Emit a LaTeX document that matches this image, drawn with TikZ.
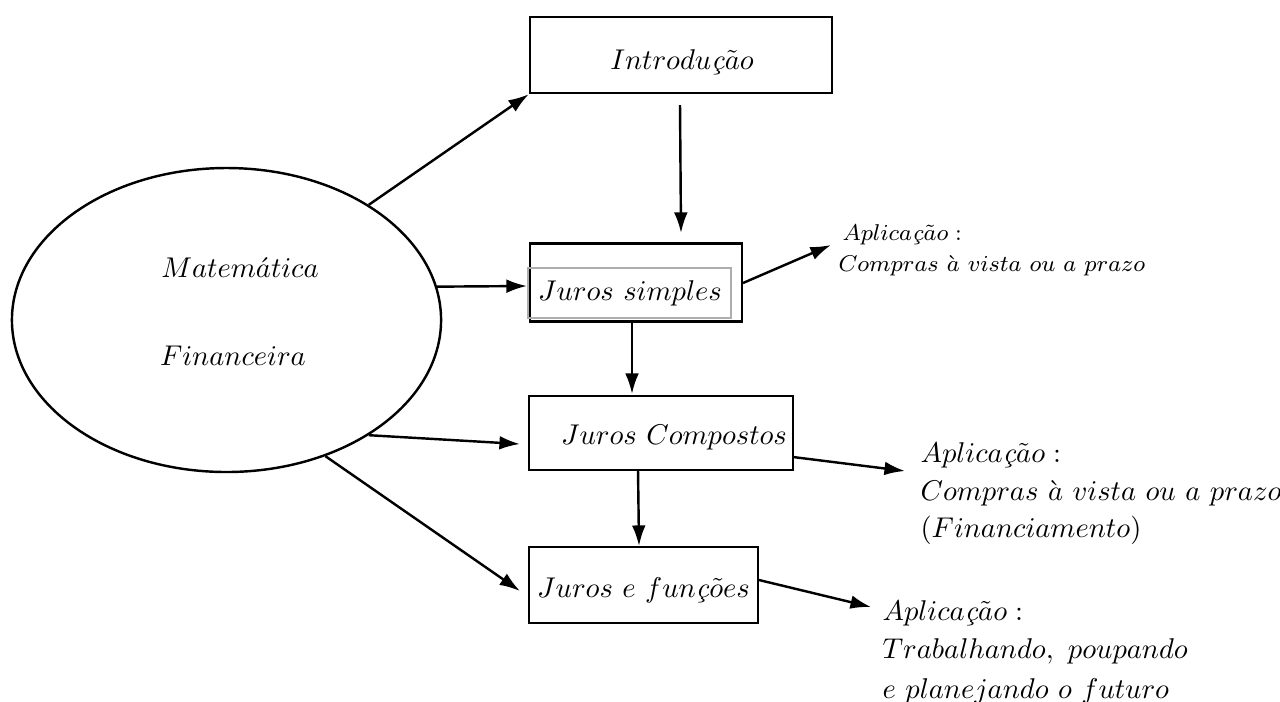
\documentclass[tikz,border=0pt]{standalone}
\usetikzlibrary{arrows.meta,shapes.geometric}
\begin{document}
\begin{tikzpicture}[x=0.35pt,y=-0.35pt,
  box/.style={draw,line width=0.85pt,inner sep=0pt},
  graybox/.style={draw=black!32,line width=0.6pt,inner sep=0pt},
  txt/.style={inner sep=0pt,font=\normalsize},
  lab/.style={inner sep=0pt,anchor=base west},
  arr/.style={line width=0.85pt,-{Latex[length=7.2pt,width=4.8pt]}}]
\useasboundingbox (0,0) rectangle (1280,701);
% ellipse
\node[draw,ellipse,line width=0.85pt,inner sep=0pt,minimum width=150.2pt,minimum height=106.4pt] (ell) at (226.5,320) {};
\node[txt] (mat) at (240,268) {$Matem\acute{a}tica$};
\node[txt] (fin) at (233,356) {$Financeira$};
% boxes
\node[box,minimum width=105.7pt,minimum height=26.6pt] (intro) at (681,55) {};
\node[txt] (introt) at (682,62) {$Introdu\mbox{\textit{ç}}\tilde{a}o$};
\node[box,minimum width=74.2pt,minimum height=27.3pt] (js) at (636,282.5) {};
\node[graybox,minimum width=71.05pt,minimum height=17.5pt] (jsin) at (629.5,293) {};
\node[txt] (jst) at (630,293) {$Juros\ simples$};
\node[box,minimum width=92.4pt,minimum height=25.9pt] (jc) at (661,433) {};
\node[txt] (jct) at (674,437) {$Juros\ Compostos$};
\node[box,minimum width=80.15pt,minimum height=26.6pt] (jf) at (643.5,585) {};
\node[txt] (jft) at (643.5,590) {$Juros\ e\ fun\mbox{\textit{ç}}\tilde{o}es$};
% application labels
\node[lab,font=\footnotesize] (a1) at (842,240) {$Aplica\mbox{\textit{ç}}\tilde{a}o:$};
\node[lab,font=\footnotesize] (a1b) at (838,271) {$Compras\ \grave{a}\ vista\ ou\ a\ prazo$};
\node[lab] (a2) at (920,462) {$Aplica\mbox{\textit{ç}}\tilde{a}o:$};
\node[lab] (a2b) at (920,500) {$Compras\ \grave{a}\ vista\ ou\ a\ prazo$};
\node[lab] (a2c) at (920,537) {$(Financiamento)$};
\node[lab] (a3) at (882,620) {$Aplica\mbox{\textit{ç}}\tilde{a}o:$};
\node[lab] (a3b) at (882,658) {$Trabalhando,\ poupando$};
\node[lab] (a3c) at (882,698) {$e\ planejando\ o\ futuro$};
% connector ends
\coordinate (c2s) at (680,105);
\coordinate (c2e) at (681,233);
\coordinate (c3e) at (527,286);
\coordinate (c4s) at (743,283);
\coordinate (c4e) at (831,245);
\coordinate (c5s) at (632,321);
\coordinate (c5e) at (632,394);
\coordinate (c6e) at (520,444);
\coordinate (c7s) at (793,457);
\coordinate (c7e) at (905,471);
\coordinate (c8s) at (638,470);
\coordinate (c8e) at (639,546);
\coordinate (c9e) at (520,591);
\coordinate (c10s) at (759,580);
\coordinate (c10e) at (871,607);
% connectors
\draw[arr] (ell.39.3) -- (intro.south west);
\draw[arr] (c2s) -- (c2e);
\draw[arr] (ell.9.7) -- (c3e);
\draw[arr] (c4s) -- (c4e);
\draw[arr] (c5s) -- (c5e);
\draw[arr] (ell.-39.5) -- (c6e);
\draw[arr] (c7s) -- (c7e);
\draw[arr] (c8s) -- (c8e);
\draw[arr] (ell.-54.1) -- (c9e);
\draw[arr] (c10s) -- (c10e);
\end{tikzpicture}
\end{document}
